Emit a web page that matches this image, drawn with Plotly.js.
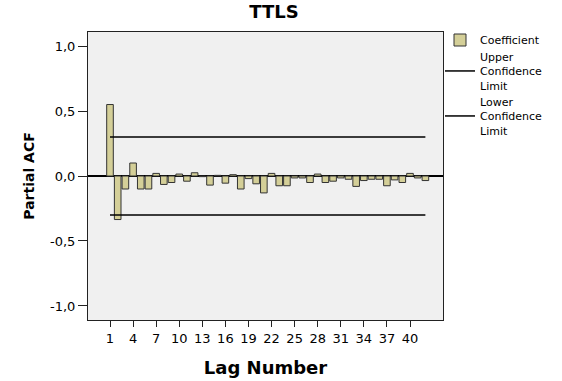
<!DOCTYPE html>
<html>
<head>
<meta charset="utf-8">
<script src="https://cdn.plot.ly/plotly-3.0.1.min.js"></script>
<style>
  html, body { margin: 0; padding: 0; background: #ffffff; }
  #chart { width: 562px; height: 381px; }
</style>
</head>
<body>
<div id="chart"></div>
<script>
// Partial autocorrelation of TTLS by lag
const lags = [1,2,3,4,5,6,7,8,9,10,11,12,13,14,15,16,17,18,19,20,21,
              22,23,24,25,26,27,28,29,30,31,32,33,34,35,36,37,38,39,40,41,42];
const pacf = [0.55, -0.335, -0.10, 0.10, -0.10, -0.10, 0.02, -0.065, -0.05, 0.015,
              -0.04, 0.025, -0.005, -0.07, 0.005, -0.055, 0.01, -0.10, -0.02, -0.06,
              -0.13, 0.02, -0.075, -0.075, -0.015, -0.015, -0.05, 0.015, -0.05, -0.04,
              -0.015, -0.025, -0.08, -0.035, -0.025, -0.025, -0.075, -0.03, -0.05, 0.02,
              -0.015, -0.035];

// Confidence limits, drawn from the first to the last lag
const limitLags = [1, 42];
const upperLimit = [0.30, 0.30];
const lowerLimit = [-0.30, -0.30];

// Axis ticks
const xTickVals = [1, 4, 7, 10, 13, 16, 19, 22, 25, 28, 31, 34, 37, 40];
const xTickText = ['1', '4', '7', '10', '13', '16', '19', '22', '25', '28', '31', '34', '37', '40'];
const yTickVals = [-1, -0.5, 0, 0.5, 1];
const yTickText = ['-1,0', '-0,5', '0,0', '0,5', '1,0'];

const FONT = 'DejaVu Sans, Liberation Sans, Arial, sans-serif';
const H = 381;

const traces = [
  {
    type: 'bar',
    name: 'Coefficient',
    x: lags,
    y: pacf,
    marker: { color: '#d4cf98', line: { color: '#333333', width: 1 } },
    legend: 'legend'
  },
  {
    type: 'scatter',
    mode: 'lines',
    name: 'Upper<br>Confidence<br>Limit',
    x: limitLags,
    y: upperLimit,
    line: { color: '#000000', width: 1.5 },
    legend: 'legend2'
  },
  {
    type: 'scatter',
    mode: 'lines',
    name: 'Lower<br>Confidence<br>Limit',
    x: limitLags,
    y: lowerLimit,
    line: { color: '#000000', width: 1.5 },
    legend: 'legend3'
  }
];

// one legend box per entry so each can sit at its own height
function legendAt(yPx) {
  return {
    x: (440 - 88) / 355,
    xanchor: 'left',
    y: 1 - (yPx - 32) / 288,
    yanchor: 'middle',
    bgcolor: 'rgba(0,0,0,0)',
    borderwidth: 0,
    font: { family: FONT, size: 11, color: '#000000' }
  };
}

const layout = {
  width: 562,
  height: H,
  margin: { l: 88, r: 119, t: 32, b: 61, autoexpand: false },
  paper_bgcolor: '#ffffff',
  plot_bgcolor: '#f0f0f0',
  font: { family: FONT, color: '#000000', size: 13 },
  bargap: 0.14,
  showlegend: true,
  title: {
    text: '<b>TTLS</b>',
    font: { family: FONT, size: 18, color: '#000000' },
    x: 274 / 562,
    xref: 'container',
    xanchor: 'center',
    y: 1 - 12 / H,
    yref: 'container',
    yanchor: 'middle'
  },
  xaxis: {
    range: [-1.86, 44.29],
    tickmode: 'array',
    tickvals: xTickVals,
    ticktext: xTickText,
    ticks: 'outside',
    ticklen: 6,
    tickwidth: 1,
    tickcolor: '#222222',
    tickfont: { family: FONT, size: 13, color: '#000000' },
    showgrid: false,
    zeroline: false,
    showline: true,
    linecolor: '#222222',
    linewidth: 1,
    mirror: true,
    automargin: true,
    title: {
      text: '<b>Lag Number</b>',
      font: { family: FONT, size: 18, color: '#000000' },
      standoff: 16
    }
  },
  yaxis: {
    range: [-1.108, 1.108],
    tickmode: 'array',
    tickvals: yTickVals,
    ticktext: yTickText,
    ticks: 'outside',
    ticklen: 9,
    tickwidth: 1,
    tickcolor: '#222222',
    tickfont: { family: FONT, size: 13, color: '#000000' },
    showgrid: false,
    zeroline: true,
    zerolinecolor: '#000000',
    zerolinewidth: 1.2,
    showline: true,
    linecolor: '#222222',
    linewidth: 1,
    mirror: true,
    automargin: true,
    title: {
      text: '<b>Partial ACF</b>',
      font: { family: FONT, size: 14, color: '#000000' },
      standoff: 12
    }
  },
  legend: legendAt(40),
  legend2: legendAt(71),
  legend3: legendAt(116)
};

Plotly.newPlot('chart', traces, layout, { displayModeBar: false, staticPlot: true });
</script>
</body>
</html>
